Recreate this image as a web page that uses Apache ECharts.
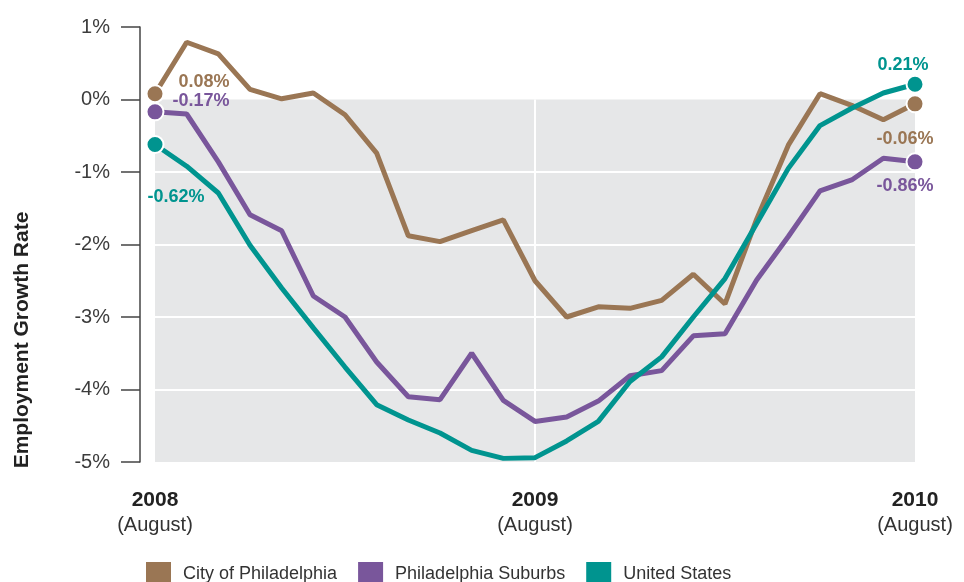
<!DOCTYPE html>
<html>
<head>
<meta charset="utf-8">
<script src="https://cdn.jsdelivr.net/npm/echarts@6/dist/echarts.min.js"></script>
<style>
  html, body { margin: 0; padding: 0; background: #fff; }
  #main { width: 964px; height: 582px; }
</style>
</head>
<body>
<div id="main"></div>
<script>
// monthly points, Aug 2008 .. Aug 2010 (25 months)
const yearTicks = ['2008', '2009', '2010'];
const yearTickIdx = [0, 12, 24];
const seriesNames = ['City of Philadelphia', 'Philadelphia Suburbs', 'United States'];

const city = [0.08, 0.79, 0.63, 0.14, 0.01, 0.09, -0.21, -0.74, -1.88, -1.96, -1.81, -1.66, -2.50,
  -3.00, -2.86, -2.88, -2.77, -2.41, -2.82, -1.65, -0.63, 0.08, -0.08, -0.28, -0.06];
const suburbs = [-0.17, -0.20, -0.86, -1.59, -1.81, -2.71, -3.00, -3.62, -4.10, -4.14, -3.50, -4.15, -4.44,
  -4.38, -4.16, -3.81, -3.74, -3.26, -3.23, -2.49, -1.89, -1.26, -1.11, -0.81, -0.86];
const us = [-0.62, -0.92, -1.29, -2.01, -2.60, -3.15, -3.69, -4.21, -4.42, -4.60, -4.84, -4.95, -4.94,
  -4.71, -4.44, -3.89, -3.55, -3.00, -2.47, -1.71, -0.95, -0.36, -0.12, 0.09, 0.21];

const gridValues = [-1, -2, -3, -4];

const FONT = "'Liberation Sans', Arial, sans-serif";
const colors = ['#9a7654', '#79569b', '#00948f'];

const chart = echarts.init(document.getElementById('main'));

//折线 + 端点标签
function makeSeries(name, values, color, firstOff, lastOff) {
  const last = values.length - 1;
  return {
    name: name,
    type: 'line',
    z: 3,
    color: color,
    symbol: 'circle',
    showAllSymbol: true,
    symbolSize: function (val, p) {
      return (p.dataIndex === 0 || p.dataIndex === last) ? 17 : 0;
    },
    itemStyle: { color: color, borderColor: '#fff', borderWidth: 2 },
    lineStyle: { width: 5, color: color },
    emphasis: { disabled: true },
    data: values.map(function (v, i) {
      if (i !== 0 && i !== last) return [i, v];
      return {
        value: [i, v],
        label: {
          show: true,
          position: 'inside',
          offset: i === 0 ? firstOff : lastOff,
          formatter: v.toFixed(2) + '%',
          color: color,
          fontFamily: FONT,
          fontWeight: 'bold',
          fontSize: 18
        }
      };
    })
  };
}

const gridLines = gridValues.map(v => [{ coord: [0, v] }, { coord: [24, v] }]);
gridLines.push([{ coord: [12, 0] }, { coord: [12, -5] }]);

chart.setOption({
  animation: false,
  backgroundColor: '#fff',
  grid: { left: 155, right: 49, top: 27, bottom: 120 },
  legend: {
    data: seriesNames,
    left: 144,
    top: 560,
    icon: 'rect',
    itemWidth: 27,
    itemHeight: 27,
    itemGap: 19,
    padding: 0,
    textStyle: { fontFamily: FONT, fontSize: 18, color: '#333', padding: [0, 0, 0, 6] }
  },
  xAxis: {
    type: 'value',
    min: 0,
    max: 24,
    interval: 12,
    axisLine: { show: false },
    axisTick: { show: false },
    splitLine: { show: false },
    axisLabel: {
      margin: 26,
      showMinLabel: true,
      showMaxLabel: true,
      formatter: function (v) {
        const k = yearTickIdx.indexOf(v);
        return k < 0 ? '' : '{y|' + yearTicks[k] + '}\n{m|(August)}';
      },
      rich: {
        y: { fontFamily: FONT, fontSize: 21, fontWeight: 'bold', color: '#222', lineHeight: 25 },
        m: { fontFamily: FONT, fontSize: 20, color: '#333', lineHeight: 24 }
      }
    }
  },
  yAxis: {
    type: 'value',
    min: -5,
    max: 1,
    interval: 1,
    offset: 15,
    axisLine: { show: true, onZero: false, lineStyle: { color: '#444', width: 1.5 } },
    axisTick: { show: true, inside: false, length: 19, lineStyle: { color: '#444', width: 1.5 } },
    splitLine: { show: false },
    axisLabel: {
      margin: 30,
      formatter: '{value}%',
      fontFamily: FONT,
      fontSize: 20,
      color: '#3c3c3c'
    }
  },
  graphic: [{
    type: 'text',
    x: 22,
    y: 340,
    rotation: Math.PI / 2,
    style: {
      text: 'Employment Growth Rate',
      font: 'bold 21px ' + FONT,
      fill: '#222',
      textAlign: 'center',
      textVerticalAlign: 'middle'
    }
  }],
  series: [
    {
      name: 'bg',
      type: 'line',
      z: 0,
      silent: true,
      symbol: 'none',
      lineStyle: { opacity: 0 },
      data: [[0, 0]],
      markArea: {
        silent: true,
        z: 0,
        itemStyle: { color: '#e6e7e8' },
        data: [[{ coord: [0, 0] }, { coord: [24, -5] }]]
      },
      markLine: {
        silent: true,
        z: 1,
        symbol: 'none',
        label: { show: false },
        lineStyle: { color: '#fff', width: 2, type: 'solid' },
        data: gridLines
      }
    },
    makeSeries(seriesNames[0], city, colors[0], [49, -12], [-10, 35]),
    makeSeries(seriesNames[1], suburbs, colors[1], [46, -11], [-10, 24]),
    makeSeries(seriesNames[2], us, colors[2], [21, 53], [-12, -19])
  ]
});
</script>
</body>
</html>
